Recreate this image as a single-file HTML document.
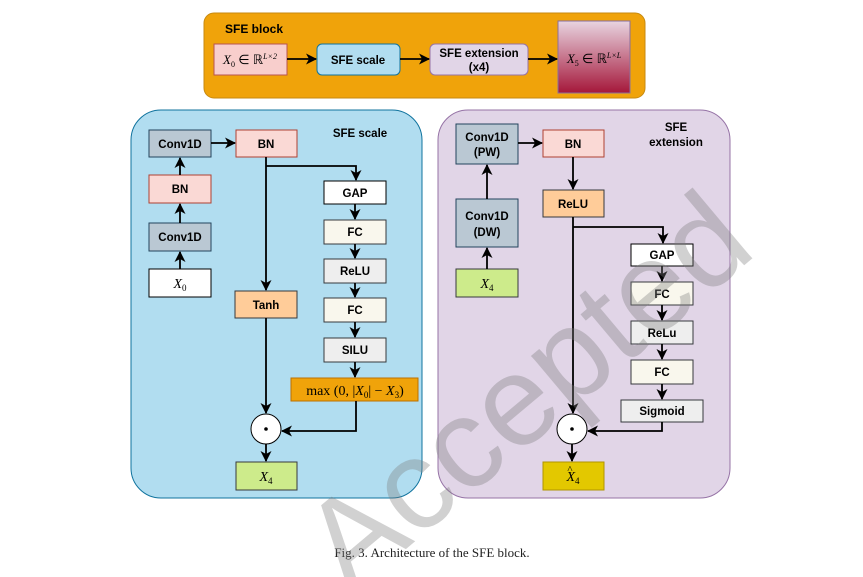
<!DOCTYPE html>
<html><head><meta charset="utf-8"><style>html,body{margin:0;background:#fff;width:863px;height:577px;overflow:hidden}svg{display:block}</style></head><body>
<svg width="863" height="577" viewBox="0 0 863 577" xmlns="http://www.w3.org/2000/svg" font-family="Liberation Sans, sans-serif" style="overflow:hidden">
<defs>
<clipPath id="c"><rect width="863" height="577"/></clipPath>
<marker id="a" markerWidth="11" markerHeight="11" refX="10" refY="5.5" orient="auto" markerUnits="userSpaceOnUse"><path d="M0,0 L11,5.5 L0,11 L3,5.5 z" fill="#000"/></marker>
<linearGradient id="g" x1="0" y1="0" x2="0" y2="1"><stop offset="0" stop-color="#e8d4e0"/><stop offset="1" stop-color="#a5173a"/></linearGradient>
</defs>
<rect x="204" y="13" width="441" height="85" rx="10" fill="#f0a30a" stroke="#c78a10"/>
<text x="225" y="33" font-size="12" font-weight="bold">SFE block</text>
<rect x="214" y="44" width="73" height="31" fill="#f8cecc" stroke="#b85450"/>
<text x="250" y="64" font-size="13" font-family="Liberation Serif, serif" text-anchor="middle" font-style="italic">X<tspan font-size="8" font-style="normal" dy="3">0</tspan><tspan dy="-3" font-style="normal"> ∈ ℝ</tspan><tspan font-size="8" dy="-5">L×2</tspan></text>
<rect x="317" y="44" width="83" height="31" rx="5" fill="#b1ddf0" stroke="#10739e"/>
<text x="358" y="64" font-size="11.5" font-weight="bold" text-anchor="middle">SFE scale</text>
<rect x="430" y="44" width="98" height="31" rx="5" fill="#e1d5e7" stroke="#9673a6"/>
<text x="479" y="57" font-size="11.5" font-weight="bold" text-anchor="middle">SFE extension</text>
<text x="479" y="71" font-size="11.5" font-weight="bold" text-anchor="middle">(x4)</text>
<rect x="558" y="21" width="72" height="72" fill="url(#g)" stroke="#8a6f9c"/>
<text x="594" y="63" font-size="13" font-family="Liberation Serif, serif" text-anchor="middle" font-style="italic">X<tspan font-size="8" font-style="normal" dy="3">5</tspan><tspan dy="-3" font-style="normal"> ∈ ℝ</tspan><tspan font-size="8" dy="-5">L×L</tspan></text>
<g stroke="#000" stroke-width="1.8" fill="none">
<line x1="287" y1="59" x2="316" y2="59" marker-end="url(#a)"/>
<line x1="400" y1="59" x2="429" y2="59" marker-end="url(#a)"/>
<line x1="528" y1="59" x2="557" y2="59" marker-end="url(#a)"/>
</g>
<rect x="131" y="110" width="291" height="388" rx="30" fill="#b1ddf0" stroke="#10739e"/>
<text x="360" y="137" font-size="11.5" font-weight="bold" text-anchor="middle">SFE scale</text>
<g font-size="11.5" font-weight="bold" text-anchor="middle">
<rect x="149" y="130" width="62" height="27" fill="#bac8d3" stroke="#23445d"/><text x="180" y="148">Conv1D</text>
<rect x="236" y="130" width="61" height="27" fill="#fad9d5" stroke="#ae4132"/><text x="266" y="148">BN</text>
<rect x="149" y="175" width="62" height="28" fill="#fad9d5" stroke="#ae4132"/><text x="180" y="193">BN</text>
<rect x="149" y="223" width="62" height="28" fill="#bac8d3" stroke="#23445d"/><text x="180" y="241">Conv1D</text>
<rect x="149" y="269" width="62" height="28" fill="#fff" stroke="#000"/>
<rect x="324" y="181" width="62" height="23" fill="#fff" stroke="#000"/><text x="355" y="197">GAP</text>
<rect x="324" y="220" width="62" height="24" fill="#f9f7ed" stroke="#36393d"/><text x="355" y="236">FC</text>
<rect x="324" y="259" width="62" height="24" fill="#eeeeee" stroke="#36393d"/><text x="355" y="275">ReLU</text>
<rect x="324" y="298" width="62" height="24" fill="#f9f7ed" stroke="#36393d"/><text x="355" y="314">FC</text>
<rect x="324" y="338" width="62" height="24" fill="#eeeeee" stroke="#36393d"/><text x="355" y="354">SILU</text>
<rect x="291" y="378" width="127" height="23" fill="#f0a30a" stroke="#bd7000"/>
<rect x="235" y="291" width="62" height="27" fill="#ffcc99" stroke="#36393d"/><text x="266" y="309">Tanh</text>
<rect x="236" y="462" width="61" height="28" fill="#cdeb8b" stroke="#36393d"/>
</g>
<g font-family="Liberation Serif, serif" font-size="14" text-anchor="middle">
<text x="180" y="288" font-style="italic">X<tspan font-size="9" font-style="normal" dy="3">0</tspan></text>
<text x="266" y="481" font-style="italic">X<tspan font-size="9" font-style="normal" dy="3">4</tspan></text>
<text x="355" y="395">max (0, |<tspan font-style="italic">X</tspan><tspan font-size="9" dy="3">0</tspan><tspan dy="-3">| − </tspan><tspan font-style="italic">X</tspan><tspan font-size="9" dy="3">3</tspan><tspan dy="-3">)</tspan></text>
</g>
<circle cx="266" cy="429" r="15" fill="#fff" stroke="#000"/><circle cx="266" cy="429" r="1.8" fill="#000"/>
<g stroke="#000" stroke-width="1.8" fill="none">
<line x1="180" y1="269" x2="180" y2="252" marker-end="url(#a)"/>
<line x1="180" y1="223" x2="180" y2="204" marker-end="url(#a)"/>
<line x1="180" y1="175" x2="180" y2="158" marker-end="url(#a)"/>
<line x1="211" y1="143" x2="235" y2="143" marker-end="url(#a)"/>
<line x1="266" y1="157" x2="266" y2="290" marker-end="url(#a)"/>
<polyline points="266,166 356,166 356,180" marker-end="url(#a)"/>
<line x1="355" y1="204" x2="355" y2="219" marker-end="url(#a)"/>
<line x1="355" y1="244" x2="355" y2="258" marker-end="url(#a)"/>
<line x1="355" y1="283" x2="355" y2="297" marker-end="url(#a)"/>
<line x1="355" y1="322" x2="355" y2="337" marker-end="url(#a)"/>
<line x1="355" y1="362" x2="355" y2="377" marker-end="url(#a)"/>
<line x1="266" y1="318" x2="266" y2="413" marker-end="url(#a)"/>
<polyline points="356,401 356,431 282,431" marker-end="url(#a)"/>
<line x1="266" y1="444" x2="266" y2="461" marker-end="url(#a)"/>
</g>
<rect x="438" y="110" width="292" height="388" rx="30" fill="#e1d5e7" stroke="#9673a6"/>
<text x="676" y="131" font-size="11.5" font-weight="bold" text-anchor="middle">SFE</text>
<text x="676" y="146" font-size="11.5" font-weight="bold" text-anchor="middle">extension</text>
<g font-size="11.5" font-weight="bold" text-anchor="middle">
<rect x="456" y="124" width="62" height="40" fill="#bac8d3" stroke="#23445d"/><text x="487" y="141">Conv1D</text><text x="487" y="156">(PW)</text>
<rect x="543" y="130" width="61" height="27" fill="#fad9d5" stroke="#ae4132"/><text x="573" y="148">BN</text>
<rect x="543" y="190" width="61" height="27" fill="#ffcc99" stroke="#36393d"/><text x="573" y="208">ReLU</text>
<rect x="456" y="199" width="62" height="48" fill="#bac8d3" stroke="#23445d"/><text x="487" y="220">Conv1D</text><text x="487" y="236">(DW)</text>
<rect x="456" y="269" width="62" height="28" fill="#cdeb8b" stroke="#36393d"/>
<rect x="631" y="244" width="62" height="22" fill="#fff" stroke="#000"/><text x="662" y="259">GAP</text>
<rect x="631" y="282" width="62" height="23" fill="#f9f7ed" stroke="#36393d"/><text x="662" y="298">FC</text>
<rect x="631" y="321" width="62" height="23" fill="#eeeeee" stroke="#36393d"/><text x="662" y="337">ReLu</text>
<rect x="631" y="360" width="62" height="24" fill="#f9f7ed" stroke="#36393d"/><text x="662" y="376">FC</text>
<rect x="621" y="400" width="82" height="22" fill="#eeeeee" stroke="#36393d"/><text x="662" y="415">Sigmoid</text>
<rect x="543" y="462" width="61" height="28" fill="#e3c800" stroke="#b09500"/>
</g>
<g font-family="Liberation Serif, serif" font-size="14" text-anchor="middle">
<text x="487" y="288" font-style="italic">X<tspan font-size="9" font-style="normal" dy="3">4</tspan></text>
<text x="573" y="481" font-style="italic">X<tspan font-size="9" font-style="normal" dy="3">4</tspan></text>
<text x="570" y="473" font-size="11">^</text>
</g>
<circle cx="572" cy="429" r="15" fill="#fff" stroke="#000"/><circle cx="572" cy="429" r="1.8" fill="#000"/>
<g stroke="#000" stroke-width="1.8" fill="none">
<line x1="487" y1="269" x2="487" y2="248" marker-end="url(#a)"/>
<line x1="487" y1="199" x2="487" y2="165" marker-end="url(#a)"/>
<line x1="518" y1="143" x2="542" y2="143" marker-end="url(#a)"/>
<line x1="573" y1="157" x2="573" y2="189" marker-end="url(#a)"/>
<line x1="573" y1="217" x2="573" y2="413" marker-end="url(#a)"/>
<polyline points="573,227 663,227 663,243" marker-end="url(#a)"/>
<line x1="662" y1="266" x2="662" y2="281" marker-end="url(#a)"/>
<line x1="662" y1="305" x2="662" y2="320" marker-end="url(#a)"/>
<line x1="662" y1="344" x2="662" y2="359" marker-end="url(#a)"/>
<line x1="662" y1="384" x2="662" y2="399" marker-end="url(#a)"/>
<polyline points="662,422 662,431 588,431" marker-end="url(#a)"/>
<line x1="572" y1="444" x2="572" y2="461" marker-end="url(#a)"/>
</g>
<text x="432" y="557" font-size="13" font-family="Liberation Serif, serif" text-anchor="middle" fill="#222">Fig. 3.  Architecture of the SFE block.</text>
<g clip-path="url(#c)"><text transform="translate(350,596) rotate(-40)" font-size="128" fill="#7a7a7a" fill-opacity="0.35">Accepted</text></g>
</svg>
</body></html>
